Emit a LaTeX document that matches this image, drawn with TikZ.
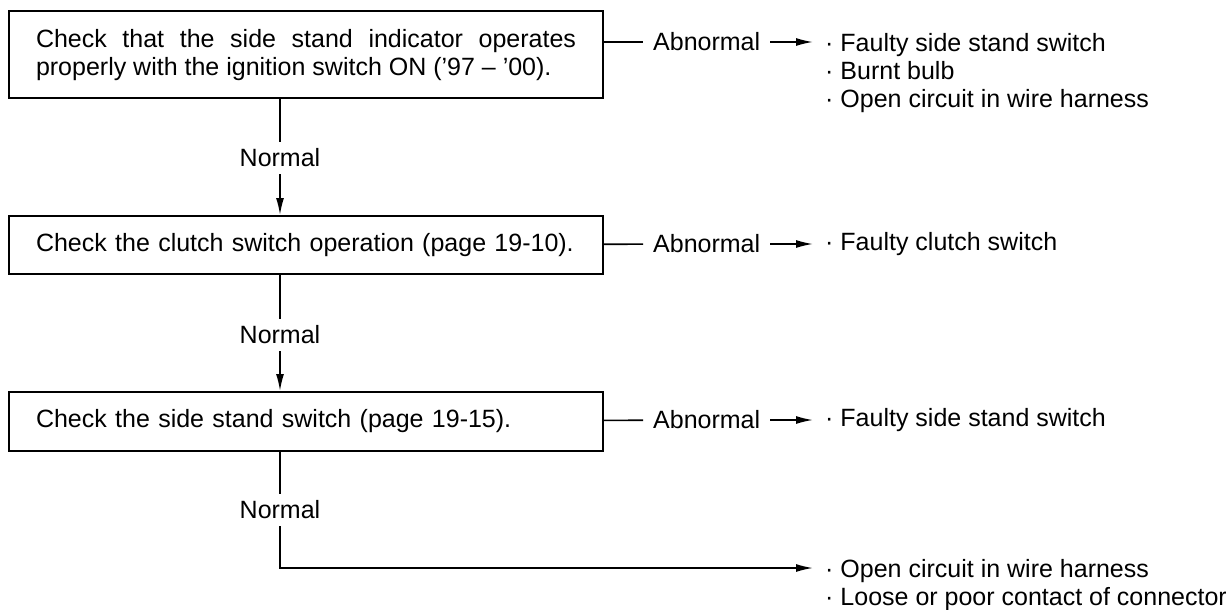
\documentclass[tikz,border=0pt]{standalone}
\usepackage{fontspec}
\setmainfont{Liberation Sans}
\usetikzlibrary{arrows.meta}
\begin{document}
\begin{tikzpicture}[x=1pt, y=-1pt,
  every node/.style={font=\fontsize{25}{28}\selectfont},
  chkbox/.style={draw, line width=2pt, anchor=north west, text width=540pt,
    inner xsep=27pt, align=left},
  lbl/.style={inner xsep=10pt, inner ysep=7pt},
  items/.style={anchor=north west, inner xsep=12pt, inner ysep=0pt, align=left},
  flow/.style={line width=1.6pt},
  arr/.style={flow, -{Latex[length=17pt, width=8pt]}}]
  \useasboundingbox (0,0) rectangle (1226,610);

  % first check
  \node[chkbox, align=justify, inner ysep=18pt] (box1) at (8,10)
    {\hyphenpenalty=10000 Check that the side stand indicator operates\linebreak
     properly with the ignition switch ON ('97 – '00).};
  \node[lbl, anchor=west] (ab1) at (643,42) {Abnormal};
  \node[items] (res1) at (813,33)
    {· Faulty side stand switch\\ · Burnt bulb\\ · Open circuit in wire harness};
  \draw[flow] (box1.east |- ab1) -- (ab1);
  \draw[arr] (ab1) -- (ab1 -| res1.west);

  % second check
  \node[chkbox, minimum height=58pt] (box2) at (8,215)
    {Check the clutch switch operation (page 19-10).};
  \node[lbl, anchor=west] (ab2) at (643,244) {Abnormal};
  \node[items, anchor=west] (res2) at (813,244) {· Faulty clutch switch};
  \draw[flow] (box2) -- (ab2);
  \draw[arr] (ab2) -- (res2);

  % third check
  \node[chkbox, minimum height=59pt] (box3) at (8,391)
    {Check the side stand switch (page 19-15).};
  \node[lbl, anchor=west] (ab3) at (643,420) {Abnormal};
  \node[items, anchor=west] (res3) at (813,420) {· Faulty side stand switch};
  \draw[flow] (box3) -- (ab3);
  \draw[arr] (ab3) -- (res3);

  % normal paths
  \node[lbl] (ok1) at (280,158) {Normal};
  \draw[flow] (box1.south -| ok1) -- (ok1);
  \draw[arr] (ok1) -- (ok1 |- box2.north);
  \node[lbl] (ok2) at (280,335) {Normal};
  \draw[flow] (box2.south -| ok2) -- (ok2);
  \draw[arr] (ok2) -- (ok2 |- box3.north);
  \node[lbl] (ok3) at (280,510) {Normal};
  \coordinate (bend) at (280,568);
  \node[items] (res4) at (813,559)
    {· Open circuit in wire harness\\ · Loose or poor contact of connector};
  \draw[flow] (box3.south -| ok3) -- (ok3);
  \draw[arr] (ok3) -- (bend) -- (bend -| res4.west);
\end{tikzpicture}
\end{document}
